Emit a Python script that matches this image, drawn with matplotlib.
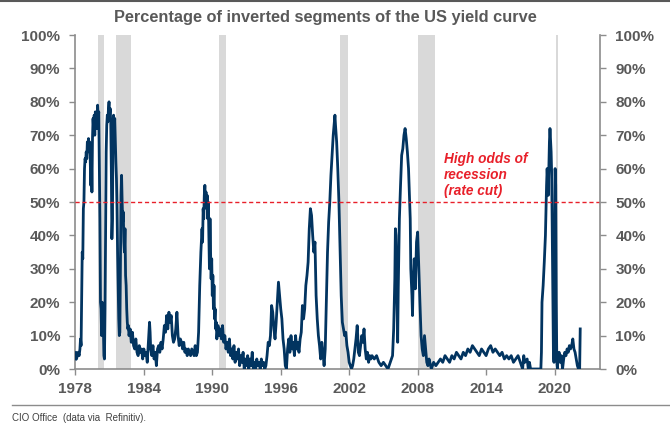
import matplotlib
matplotlib.use("Agg")
import matplotlib.pyplot as plt
from matplotlib.lines import Line2D
from matplotlib.ticker import PercentFormatter

plt.rcParams['font.family'] = ['Liberation Sans', 'DejaVu Sans']

# Share of inverted yield curve segments (%) (decimal years)
years = [
    1978.00, 1978.05, 1978.10, 1978.18, 1978.25, 1978.33, 1978.40, 1978.45, 1978.50, 1978.55,
    1978.60, 1978.65, 1978.70, 1978.75, 1978.80, 1978.85, 1978.90, 1978.95, 1979.00, 1979.05,
    1979.10, 1979.15, 1979.20, 1979.25, 1979.30, 1979.35, 1979.40, 1979.45, 1979.50, 1979.55,
    1979.60, 1979.65, 1979.70, 1979.75, 1979.80, 1979.85, 1979.90, 1979.95, 1980.00, 1980.05,
    1980.10, 1980.15, 1980.20, 1980.25, 1980.30, 1980.35, 1980.40, 1980.45, 1980.50, 1980.55,
    1980.60, 1980.65, 1980.70, 1980.75, 1980.80, 1980.85, 1980.90, 1980.95, 1981.00, 1981.05,
    1981.10, 1981.15, 1981.20, 1981.25, 1981.30, 1981.35, 1981.40, 1981.45, 1981.50, 1981.55,
    1981.60, 1981.65, 1981.70, 1981.75, 1981.80, 1981.85, 1981.90, 1981.95, 1982.00, 1982.05,
    1982.10, 1982.15, 1982.20, 1982.25, 1982.30, 1982.35, 1982.40, 1982.45, 1982.50, 1982.55,
    1982.60, 1982.65, 1982.70, 1982.80, 1982.90, 1983.00, 1983.10, 1983.20, 1983.30, 1983.40,
    1983.50, 1983.60, 1983.70, 1983.80, 1983.90, 1984.00, 1984.10, 1984.20, 1984.30, 1984.40,
    1984.50, 1984.55, 1984.60, 1984.70, 1984.80, 1984.90, 1985.00, 1985.10, 1985.20, 1985.30,
    1985.40, 1985.50, 1985.60, 1985.70, 1985.80, 1985.90, 1986.00, 1986.10, 1986.20, 1986.30,
    1986.40, 1986.50, 1986.60, 1986.70, 1986.80, 1986.90, 1987.00, 1987.10, 1987.20, 1987.30,
    1987.40, 1987.50, 1987.60, 1987.70, 1987.80, 1987.90, 1988.00, 1988.10, 1988.20, 1988.30,
    1988.40, 1988.50, 1988.60, 1988.70, 1988.80, 1988.90, 1989.00, 1989.10, 1989.15, 1989.20,
    1989.25, 1989.30, 1989.35, 1989.40, 1989.45, 1989.50, 1989.55, 1989.60, 1989.65, 1989.70,
    1989.75, 1989.80, 1989.85, 1989.90, 1989.95, 1990.00, 1990.05, 1990.10, 1990.15, 1990.20,
    1990.25, 1990.30, 1990.35, 1990.40, 1990.50, 1990.60, 1990.70, 1990.80, 1990.90, 1991.00,
    1991.10, 1991.20, 1991.30, 1991.40, 1991.50, 1991.60, 1991.70, 1991.80, 1991.90, 1992.00,
    1992.10, 1992.20, 1992.30, 1992.40, 1992.50, 1992.60, 1992.70, 1992.80, 1992.90, 1993.00,
    1993.10, 1993.20, 1993.30, 1993.40, 1993.50, 1993.60, 1993.70, 1993.80, 1993.90, 1994.00,
    1994.10, 1994.20, 1994.30, 1994.40, 1994.50, 1994.60, 1994.70, 1994.80, 1994.90, 1995.00,
    1995.10, 1995.20, 1995.30, 1995.40, 1995.50, 1995.60, 1995.70, 1995.80, 1995.90, 1996.00,
    1996.10, 1996.20, 1996.30, 1996.40, 1996.50, 1996.60, 1996.70, 1996.80, 1996.90, 1997.00,
    1997.10, 1997.20, 1997.30, 1997.40, 1997.50, 1997.60, 1997.70, 1997.80, 1997.90, 1998.00,
    1998.10, 1998.20, 1998.30, 1998.40, 1998.50, 1998.60, 1998.70, 1998.80, 1998.90, 1999.00,
    1999.10, 1999.20, 1999.30, 1999.40, 1999.50, 1999.60, 1999.70, 1999.80, 1999.90, 2000.00,
    2000.10, 2000.20, 2000.30, 2000.40, 2000.50, 2000.60, 2000.70, 2000.75, 2000.80, 2000.90,
    2001.00, 2001.10, 2001.20, 2001.30, 2001.40, 2001.50, 2001.60, 2001.70, 2001.80, 2001.90,
    2002.00, 2002.10, 2002.20, 2002.30, 2002.40, 2002.50, 2002.60, 2002.70, 2002.75, 2002.80,
    2002.90, 2003.00, 2003.10, 2003.20, 2003.30, 2003.40, 2003.50, 2003.60, 2003.70, 2003.80,
    2003.90, 2004.00, 2004.20, 2004.40, 2004.60, 2004.80, 2005.00, 2005.20, 2005.40, 2005.60,
    2005.80, 2005.90, 2006.00, 2006.05, 2006.10, 2006.15, 2006.25, 2006.30, 2006.40, 2006.50,
    2006.60, 2006.70, 2006.80, 2006.90, 2007.00, 2007.10, 2007.20, 2007.30, 2007.35, 2007.40,
    2007.50, 2007.55, 2007.60, 2007.70, 2007.80, 2007.90, 2008.00, 2008.10, 2008.20, 2008.30,
    2008.40, 2008.50, 2008.60, 2008.70, 2008.80, 2008.90, 2009.00, 2009.20, 2009.40, 2009.60,
    2009.80, 2010.00, 2010.20, 2010.40, 2010.60, 2010.80, 2011.00, 2011.20, 2011.40, 2011.60,
    2011.80, 2012.00, 2012.20, 2012.40, 2012.60, 2012.80, 2013.00, 2013.20, 2013.40, 2013.60,
    2013.80, 2014.00, 2014.20, 2014.40, 2014.60, 2014.80, 2015.00, 2015.20, 2015.40, 2015.60,
    2015.80, 2016.00, 2016.20, 2016.40, 2016.60, 2016.80, 2017.00, 2017.20, 2017.30, 2017.40,
    2017.60, 2017.70, 2017.80, 2017.90, 2018.00, 2018.40, 2018.80, 2018.85, 2018.90, 2019.00,
    2019.10, 2019.20, 2019.30, 2019.35, 2019.45, 2019.55, 2019.60, 2019.70, 2019.75, 2019.80,
    2019.85, 2019.90, 2019.95, 2020.00, 2020.05, 2020.10, 2020.15, 2020.20, 2020.25, 2020.30,
    2020.40, 2020.50, 2020.60, 2020.70, 2020.80, 2020.90, 2021.00, 2021.10, 2021.20, 2021.30,
    2021.40, 2021.50, 2021.60, 2021.70, 2021.80, 2021.90, 2022.00, 2022.10, 2022.20, 2022.25,
]
pct = [
    3, 5, 3, 4, 5, 4, 6, 9, 7, 20,
    35, 33, 48, 50, 60, 63, 62, 65, 63, 68,
    66, 69, 65, 68, 63, 55, 66, 53, 69, 75,
    72, 76, 70, 77, 73, 76, 72, 79, 75, 77,
    60, 45, 20, 18, 10, 20, 11, 13, 4, 3,
    18, 40, 65, 73, 76, 74, 78, 80, 76, 78,
    74, 60, 39, 45, 73, 76, 72, 75, 68, 62,
    57, 48, 35, 25, 15, 10, 11, 30, 52, 58,
    50, 44, 47, 38, 35, 42, 28, 25, 18, 14,
    12, 13, 10, 12, 8, 11, 7, 6, 9, 5,
    4, 7, 5, 6, 3, 6, 4, 5, 2, 8,
    14, 11, 6, 4, 7, 3, 5, 1, 6, 7,
    5, 8, 6, 9, 13, 11, 16, 12, 17, 14,
    16, 10, 8, 9, 12, 17, 10, 7, 9, 8,
    6, 8, 5, 6, 4, 6, 5, 4, 6, 5,
    4, 7, 4, 5, 11, 25, 35, 42, 38, 48,
    45, 52, 55, 50, 53, 48, 52, 45, 50, 40,
    30, 45, 35, 27, 33, 22, 28, 18, 25, 15,
    18, 12, 14, 9, 13, 10, 12, 9, 13, 8,
    10, 6, 8, 5, 9, 4, 6, 3, 7, 2,
    5, 3, 6, 1, 4, 2, 5, 0, 3, 1,
    4, 0, 3, 1, 5, 0, 2, 0, 3, 1,
    2, 0, 3, 1, 2, 0, 1, 4, 8, 7,
    10, 19, 17, 12, 9, 14, 20, 26, 22, 18,
    15, 9, 6, 1, 0, 6, 9, 5, 10, 6,
    8, 4, 10, 6, 8, 5, 9, 11, 19, 15,
    18, 25, 28, 32, 42, 48, 46, 40, 35, 38,
    22, 15, 10, 7, 3, 8, 5, 1, 6, 20,
    35, 44, 50, 58, 64, 70, 74, 76, 73, 68,
    60, 50, 36, 22, 14, 12, 10, 11, 7, 5,
    2, 1, 0, 1, 3, 6, 9, 13, 10, 5,
    4, 7, 10, 8, 12, 6, 3, 5, 2, 4,
    3, 4, 3, 4, 2, 1, 2, 1, 0, 2,
    4, 12, 27, 42, 40, 30, 8, 24, 45, 55,
    64, 66, 70, 72, 69, 65, 60, 50, 45, 30,
    22, 16, 25, 33, 24, 38, 41, 30, 20, 10,
    6, 4, 10, 6, 2, 1, 3, 0, 2, 1,
    2, 3, 2, 4, 3, 2, 4, 3, 5, 4,
    3, 5, 4, 6, 5, 7, 6, 5, 4, 6,
    5, 4, 6, 7, 5, 6, 5, 4, 5, 3,
    4, 3, 4, 2, 3, 4, 2, 0, 4, 2,
    3, 0, 2, 0, 0, 0, 0, 5, 20, 25,
    32, 40, 55, 60, 52, 68, 72, 65, 58, 40,
    20, 5, 2, 30, 60, 55, 20, 2, 0, 3,
    5, 2, 4, 0, 3, 5, 4, 6, 5, 7,
    6, 7, 9, 6, 5, 3, 1, 0, 0, 12,
]

# NBER recessions (start, end) in decimal years
rec_start = [1980.00, 1981.52, 1990.55, 2001.20, 2008.00, 2020.10]
rec_end = [1980.50, 1982.85, 1991.20, 2001.88, 2009.50, 2020.30]

x_ticks = [1978, 1984, 1990, 1996, 2002, 2008, 2014, 2020]
y_ticks = [0, 10, 20, 30, 40, 50, 60, 70, 80, 90, 100]
threshold = 50

grey = "#595959"
spine_grey = "#8c8c8c"
navy = "#023460"
red = "#e8202a"

fig = plt.figure(figsize=(6.7, 4.26), dpi=100)
ax = fig.add_axes([0.1125, 0.1338, 0.7833, 0.7840])

# recession shading
for s, e in zip(rec_start, rec_end):
    ax.axvspan(s, e, color="#d9d9d9", lw=0, zorder=1)

ax.plot(years, pct, color=navy, lw=2.0, zorder=3)
ax.axhline(threshold, color=red, lw=1.0, ls=(0, (3, 2)), zorder=4)

ax.text(2010.3, 58.1, "High odds of\nrecession\n(rate cut)", color=red,
        fontsize=9.8, fontweight="bold", fontstyle="italic",
        ha="left", va="center", linespacing=1.22, zorder=5)

ax.set_xlim(1978, 2024.0)
ax.set_ylim(0, 100)
ax.set_xticks(x_ticks)
ax.set_yticks(y_ticks)
ax.yaxis.set_major_formatter(PercentFormatter(decimals=0))

# right axis mirrors the left one
ax2 = ax.twinx()
ax2.set_ylim(0, 100)
ax2.set_yticks(y_ticks)
ax2.yaxis.set_major_formatter(PercentFormatter(decimals=0))

for a in (ax, ax2):
    a.spines["top"].set_visible(False)
    for side in ("left", "right", "bottom"):
        a.spines[side].set_color(spine_grey)
        a.spines[side].set_linewidth(1.2)
    a.tick_params(axis="both", colors=spine_grey, length=4, width=1.0,
                  labelsize=11, labelcolor=grey, direction="out")
    for lab in a.get_xticklabels() + a.get_yticklabels():
        lab.set_fontweight("bold")
ax.spines["right"].set_visible(False)
ax2.spines["left"].set_visible(False)
ax2.spines["bottom"].set_visible(False)
ax.tick_params(axis="y", pad=7)
ax2.tick_params(axis="y", pad=7)
ax.tick_params(axis="x", pad=5)

fig.text(0.485, 0.958, "Percentage of inverted segments of the US yield curve",
         ha="center", va="center", fontsize=11.8, fontweight="bold", color=grey)

# frame lines and source note
fig.add_artist(Line2D([0, 1], [0.998, 0.998], color="#595959", lw=1.5))
fig.add_artist(Line2D([0.018, 1], [0.049, 0.049], color="#8c8c8c", lw=1.0))
fig.text(0.018, 0.019, "CIO Office  (data via  Refinitiv).", ha="left", va="center",
         fontsize=7, color="#404040")

fig.savefig("out.png", dpi=100)
